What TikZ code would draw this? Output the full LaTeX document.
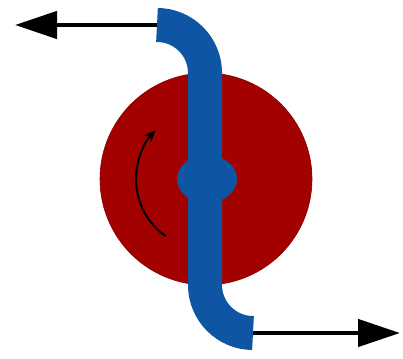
\documentclass[tikz,border=0pt]{standalone}
\usetikzlibrary{arrows.meta}
\definecolor{diskred}{RGB}{163,0,0}
\definecolor{bandblue}{RGB}{14,85,164}
\tikzset{
  flowarrow/.style={line width=4.5pt, -{Triangle[length=42pt,width=27pt]}},
  rotarrow/.style={line width=2pt, -{Stealth[length=12pt,width=10pt]}},
}
\begin{document}
\begin{tikzpicture}[x=1pt,y=1pt]
\useasboundingbox (0,0) rectangle (403,358);
\coordinate (c) at (206,179);
% disk
\fill[diskred, draw=diskred!85!black, line width=0.6pt] (c) circle[radius=106];
% rotation arrow
\draw[rotarrow] ([shift={(234.7:70)}]c) arc[start angle=234.7, end angle=136, radius=70];
% outflow arrows
\coordinate (topcap) at (157,333);
\coordinate (toptip) at (15,333);
\coordinate (botcap) at (253,25);
\coordinate (bottip) at (400,25);
\draw[flowarrow] (topcap) -- (toptip);
\draw[flowarrow] (botcap) -- (bottip);
% band
\draw[bandblue, line width=34pt, line cap=butt]
  (topcap) arc[start angle=90, end angle=0, radius=48]
  -- (205,73) arc[start angle=180, end angle=270, radius=48];
% hub
\fill[bandblue] (207,179) ellipse[x radius=30, y radius=24];
\end{tikzpicture}
\end{document}
